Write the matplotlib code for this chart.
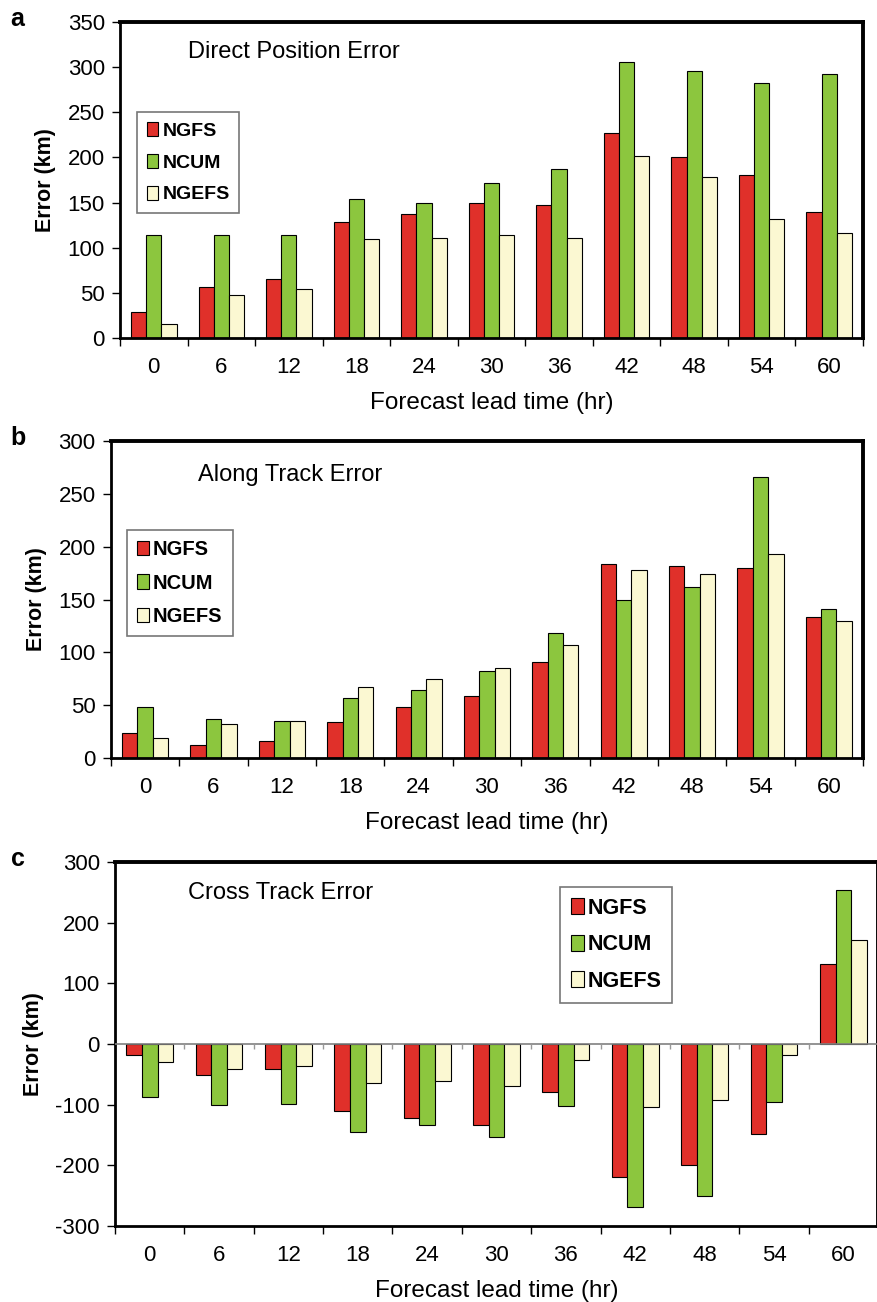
import numpy as np
import matplotlib
matplotlib.use("Agg")
from matplotlib import pyplot as plt

plt.rcParams['font.family'] = ['Liberation Sans', 'DejaVu Sans']
plt.rcParams['axes.unicode_minus'] = False

lead = [0, 6, 12, 18, 24, 30, 36, 42, 48, 54, 60]
models = ['NGFS', 'NCUM', 'NGEFS']
colors = ['#e0302a', '#8cc63e', '#fbf8d2']

# direct position error (km)
dpe_ngfs = [29, 56, 65, 129, 137, 150, 147, 227, 200, 181, 140]
dpe_ncum = [114, 114, 114, 154, 149, 172, 187, 306, 296, 282, 292]
dpe_ngefs = [15, 48, 54, 110, 111, 114, 111, 202, 178, 132, 116]

# along track error (km)
ate_ngfs = [24, 12, 16, 34, 48, 59, 91, 184, 182, 180, 133]
ate_ncum = [48, 37, 35, 57, 64, 82, 118, 150, 162, 266, 141]
ate_ngefs = [19, 32, 35, 67, 75, 85, 107, 178, 174, 193, 130]

# cross track error (km)
cte_ngfs = [-19, -52, -42, -111, -122, -134, -79, -220, -199, -149, 131]
cte_ncum = [-87, -100, -99, -145, -134, -154, -102, -269, -250, -95, 254]
cte_ngefs = [-30, -41, -36, -64, -61, -69, -27, -104, -92, -18, 171]

fig = plt.figure(figsize=(8.78, 13.02), dpi=100)

panels = [
    ('a', [0.1367, 0.7404, 0.8462, 0.2427], (dpe_ngfs, dpe_ncum, dpe_ngefs),
     (0, 350), 50, 'Direct Position Error', (0.092, 0.905), (0.023, 0.715), 14),
    ('b', [0.1264, 0.4178, 0.8565, 0.2435], (ate_ngfs, ate_ncum, ate_ngefs),
     (0, 300), 50, 'Along Track Error', (0.116, 0.893), (0.021, 0.719), 14.5),
    ('c', [0.1310, 0.0584, 0.8690, 0.2796], (cte_ngfs, cte_ncum, cte_ngefs),
     (-300, 300), 100, 'Cross Track Error', (0.096, 0.915), (0.583, 0.931), 15.5),
]

x = np.arange(len(lead))
bounds = np.arange(-0.5, len(lead), 1.0)
w = 0.225

for letter, pos, series, ylim, step, title, tpos, lpos, lsize in panels:
    ax = fig.add_axes(pos)
    for i, (vals, col, name) in enumerate(zip(series, colors, models)):
        ax.bar(x + (i - 1) * w, vals, w, color=col, edgecolor='black', linewidth=0.8, label=name)
    ax.set_xlim(-0.5, len(lead) - 0.5)
    ax.set_ylim(*ylim)
    ax.set_yticks(np.arange(ylim[0], ylim[1] + 1, step))
    ax.set_xticks(x)
    ax.set_xticklabels([str(v) for v in lead])
    ax.set_xticks(bounds, minor=True)
    ax.tick_params(axis='x', which='major', length=0, pad=14, labelsize=16)
    ax.tick_params(axis='x', which='minor', length=6, width=1, direction='out')
    ax.tick_params(axis='y', length=6, width=1, labelsize=16, pad=5)
    if ylim[0] < 0:
        ax.axhline(0, color='#808080', linewidth=1.2, zorder=3)
        ax.vlines(bounds[1:-1], -8, 0, color='#999999', linewidth=1, zorder=3)
    for s in ['top', 'right']:
        ax.spines[s].set_linewidth(2.8)
    for s in ['left', 'bottom']:
        ax.spines[s].set_linewidth(2.0)
    ax.set_ylabel('Error (km)', fontsize=15.5, fontweight='bold', labelpad=8)
    ax.set_xlabel('Forecast lead time (hr)', fontsize=17.5, labelpad=10)
    ax.text(tpos[0], tpos[1], title, transform=ax.transAxes, fontsize=17,
            ha='left', va='center')
    leg = ax.legend(loc='upper left', bbox_to_anchor=lpos, frameon=True,
                    fancybox=False, handlelength=0.6, handleheight=0.75,
                    handletextpad=0.2, labelspacing=0.72, borderpad=0.5,
                    borderaxespad=0, prop={'size': lsize, 'weight': 'bold'})
    leg.get_frame().set_edgecolor('#555555')
    leg.get_frame().set_linewidth(1.2)
    bbox = ax.get_position()
    fig.text(0.012, bbox.y1 + 0.002, letter, fontsize=18, fontweight='bold',
             ha='left', va='center')

fig.savefig('out.png', dpi=100)
